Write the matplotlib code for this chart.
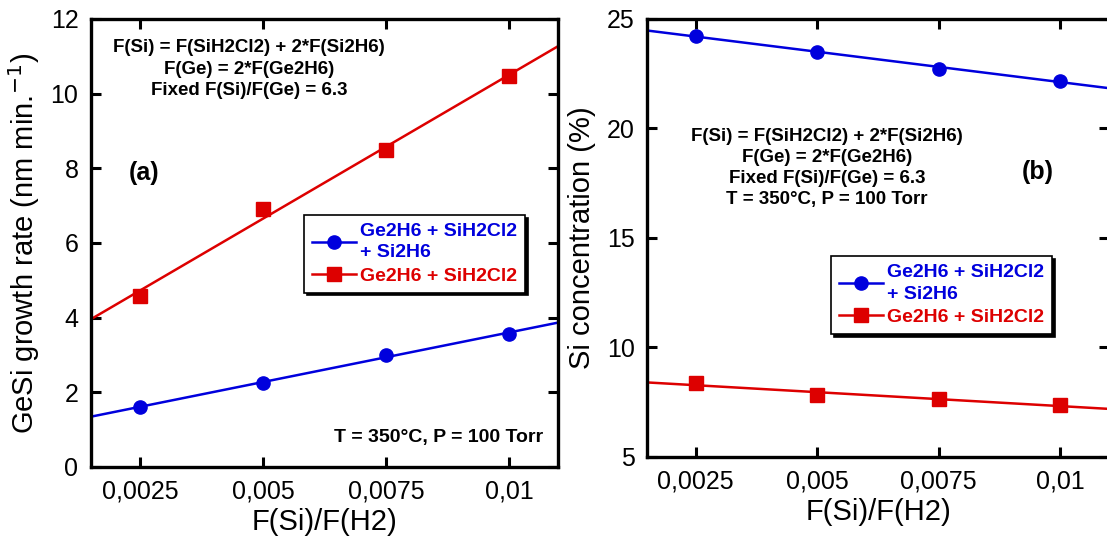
import numpy as np
import matplotlib
matplotlib.use('Agg')
import matplotlib.pyplot as plt

plt.rcParams['font.family'] = ['Liberation Sans', 'DejaVu Sans']

# data
x = [0.0025, 0.005, 0.0075, 0.01]
rate_3gas = [1.61, 2.25, 3.0, 3.57]
rate_2gas = [4.59, 6.9, 8.5, 10.47]
conc_3gas = [24.23, 23.5, 22.72, 22.18]
conc_2gas = [8.37, 7.82, 7.64, 7.37]
xticks = [0.0025, 0.005, 0.0075, 0.01]
xticklabels = ['0,0025', '0,005', '0,0075', '0,01']

blue = '#0000dd'
red = '#dd0000'
lab1 = 'Ge2H6 + SiH2Cl2\n+ Si2H6'
lab2 = 'Ge2H6 + SiH2Cl2'

fig = plt.figure(figsize=(11.07, 5.38), dpi=100)
ax1 = fig.add_axes([0.0822, 0.132, 0.4219, 0.8327])
ax2 = fig.add_axes([0.5845, 0.1506, 0.4173, 0.8141])


def style(ax, xlim):
    ax.set_xlim(*xlim)
    ax.set_xticks(xticks)
    ax.set_xticklabels(xticklabels)
    ax.tick_params(direction='in', top=True, right=True, length=7, width=2.2,
                   labelsize=18, pad=9)
    for s in ax.spines.values():
        s.set_linewidth(2.4)
    ax.set_xlabel('F(Si)/F(H2)', fontsize=21, labelpad=3)


def draw(ax, xs, ys, color, marker, label, xlim):
    a, b = np.polyfit(xs, ys, 1)
    xf = np.array(xlim)
    ax.plot(xf, a * xf + b, '-', color=color, lw=1.8, zorder=2)
    ax.plot(xs, ys, marker, color=color, ms=9.5, zorder=3, ls='none')
    # proxy handle for the legend
    ax.plot([], [], '-' + marker, color=color, lw=1.8, ms=9.5, label=label)


def legend(ax, loc):
    leg = ax.legend(loc='upper left', bbox_to_anchor=loc, frameon=True,
                    fancybox=False, shadow={'color': 'black', 'alpha': 1},
                    handlelength=2.3, handletextpad=0.2, borderpad=0.4,
                    labelspacing=0.3, borderaxespad=0,
                    prop={'weight': 'bold', 'size': 14})
    leg.get_frame().set_edgecolor('black')
    leg.get_frame().set_linewidth(1.2)
    for t, c in zip(leg.get_texts(), [blue, red]):
        t.set_color(c)
        t.set_linespacing(1.35)


# (a)
xl1 = (0.0015, 0.011)
draw(ax1, x, rate_3gas, blue, 'o', lab1, xl1)
draw(ax1, x, rate_2gas, red, 's', lab2, xl1)
style(ax1, xl1)
ax1.set_ylim(0, 12)
ax1.set_yticks([0, 2, 4, 6, 8, 10, 12])
ax1.set_ylabel('GeSi growth rate (nm min.$^{-1}$)', fontsize=21, labelpad=6)
legend(ax1, (0.456, 0.5625))
ax1.text(0.338, 0.955, 'F(Si) = F(SiH2Cl2) + 2*F(Si2H6)\nF(Ge) = 2*F(Ge2H6)\nFixed F(Si)/F(Ge) = 6.3',
         transform=ax1.transAxes, ha='center', va='top', fontsize=13.5,
         fontweight='bold', linespacing=1.35)
ax1.text(0.113, 0.656, '(a)', transform=ax1.transAxes, fontsize=18,
         fontweight='bold', ha='center', va='center')
ax1.text(0.968, 0.065, 'T = 350°C, P = 100 Torr', transform=ax1.transAxes,
         ha='right', va='center', fontsize=14, fontweight='bold')

# (b)
xl2 = (0.0015, 0.011)
draw(ax2, x, conc_3gas, blue, 'o', lab1, xl2)
draw(ax2, x, conc_2gas, red, 's', lab2, xl2)
style(ax2, xl2)
ax2.set_ylim(5, 25)
ax2.set_yticks([5, 10, 15, 20, 25])
ax2.set_ylabel('Si concentration (%)', fontsize=21, labelpad=8)
legend(ax2, (0.398, 0.458))
ax2.text(0.39, 0.75, 'F(Si) = F(SiH2Cl2) + 2*F(Si2H6)\nF(Ge) = 2*F(Ge2H6)\nFixed F(Si)/F(Ge) = 6.3\nT = 350°C, P = 100 Torr',
         transform=ax2.transAxes, ha='center', va='top', fontsize=13.5,
         fontweight='bold', linespacing=1.3)
ax2.text(0.846, 0.651, '(b)', transform=ax2.transAxes, fontsize=18,
         fontweight='bold', ha='center', va='center')

fig.savefig('out.png', dpi=100)
